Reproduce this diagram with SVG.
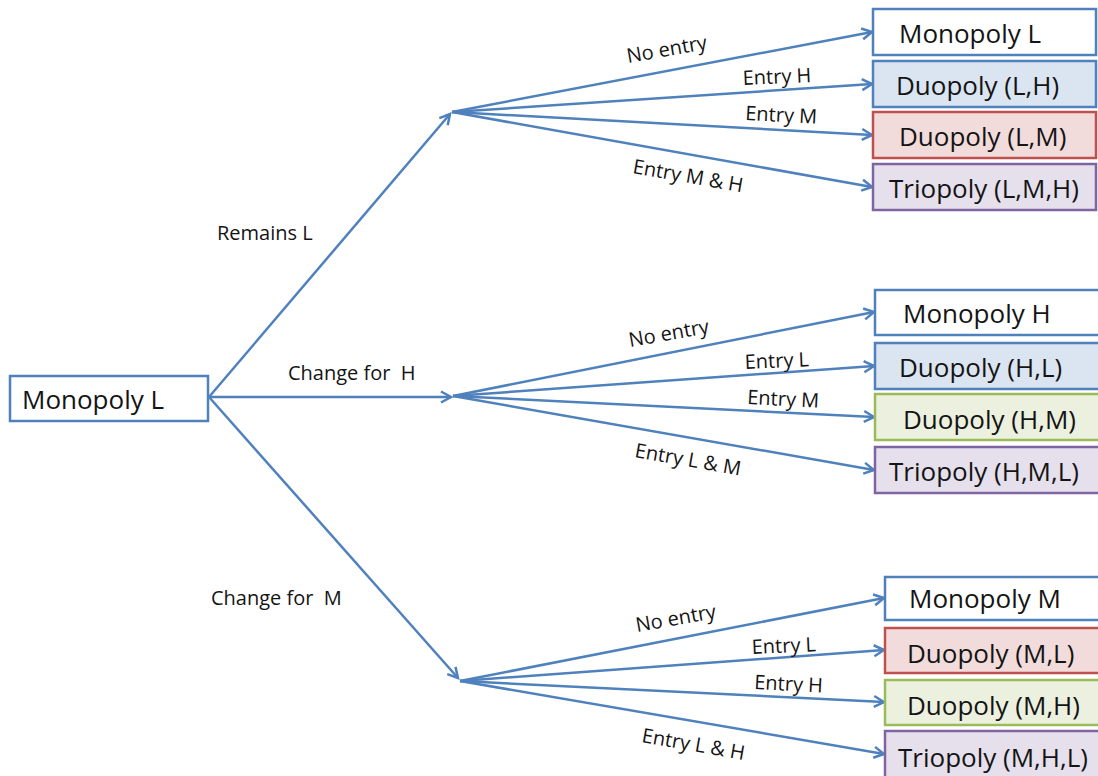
<svg xmlns="http://www.w3.org/2000/svg" width="1098" height="776" viewBox="0 0 1098 776">
<defs>
<marker id="arr" markerUnits="userSpaceOnUse" markerWidth="14" markerHeight="14" refX="11" refY="6" orient="auto" overflow="visible">
<path d="M1,0.5 L11,6 L1,11.5" fill="none" stroke="#4f81bd" stroke-width="2.5" stroke-linejoin="miter"/>
</marker>
</defs>
<style>
.box{stroke-width:2.5}
.w{fill:#ffffff;stroke:#4f81bd}
.b{fill:#dbe5f1;stroke:#4f81bd}
.r{fill:#f2dcdb;stroke:#c0504d}
.g{fill:#ebf1de;stroke:#9bbb59}
.p{fill:#e5e0ec;stroke:#8064a2}
.t{font-family:"Open Sans","Liberation Sans",sans-serif;font-size:26px;fill:#141414}
.l{font-family:"Open Sans","Liberation Sans",sans-serif;font-size:20px;fill:#141414;white-space:pre}
.c{fill:none;stroke:#4f81bd;stroke-width:2.5;marker-end:url(#arr)}
</style>
<rect width="1098" height="776" fill="#ffffff"/>

<g id="connectors">
<line class="c" x1="209" y1="397" x2="450" y2="114"/>
<line class="c" x1="209" y1="397" x2="451" y2="397"/>
<line class="c" x1="209" y1="397" x2="458" y2="678"/>

<line class="c" x1="452" y1="112" x2="872" y2="32"/>
<line class="c" x1="452" y1="112" x2="872" y2="84"/>
<line class="c" x1="452" y1="112" x2="872" y2="135"/>
<line class="c" x1="452" y1="112" x2="872" y2="187"/>

<line class="c" x1="453" y1="396" x2="874" y2="312"/>
<line class="c" x1="453" y1="396" x2="874" y2="366"/>
<line class="c" x1="453" y1="396" x2="874" y2="417"/>
<line class="c" x1="453" y1="396" x2="874" y2="470"/>

<line class="c" x1="460" y1="681" x2="884" y2="598"/>
<line class="c" x1="460" y1="681" x2="884" y2="650"/>
<line class="c" x1="460" y1="681" x2="884" y2="702"/>
<line class="c" x1="460" y1="681" x2="884" y2="754"/>
</g>

<g id="edge-labels">
<text class="l" x="217" y="240">Remains L</text>
<text class="l" x="288" y="380" xml:space="preserve">Change for  H</text>
<text class="l" x="211" y="605" xml:space="preserve">Change for  M</text>

<text class="l" transform="translate(628,63) rotate(-10)">No entry</text>
<text class="l" transform="translate(743,85) rotate(-2.5)">Entry H</text>
<text class="l" transform="translate(745,120) rotate(3)">Entry M</text>
<text class="l" transform="translate(632,173) rotate(10)">Entry M &amp; H</text>

<text class="l" transform="translate(630,347) rotate(-10)">No entry</text>
<text class="l" transform="translate(745,369) rotate(-2.5)">Entry L</text>
<text class="l" transform="translate(747,404) rotate(3)">Entry M</text>
<text class="l" transform="translate(634,457) rotate(10)">Entry L &amp; M</text>

<text class="l" transform="translate(637,632) rotate(-10)">No entry</text>
<text class="l" transform="translate(752,654) rotate(-2.5)">Entry L</text>
<text class="l" transform="translate(754,689) rotate(3)">Entry H</text>
<text class="l" transform="translate(641,742) rotate(10)">Entry L &amp; H</text>
</g>

<g id="root">
<rect class="box w" x="10" y="376" width="198" height="45"/>
<text class="t" x="22" y="409">Monopoly L</text>
</g>

<g id="l-mono"><rect class="box w" x="873" y="9" width="223" height="46"/><text class="t" x="899" y="43">Monopoly L</text></g>
<g id="l-duo-h"><rect class="box b" x="873" y="61" width="223" height="46"/><text class="t" x="896" y="95">Duopoly (L,H)</text></g>
<g id="l-duo-m"><rect class="box r" x="873" y="112" width="223" height="46"/><text class="t" x="899" y="146">Duopoly (L,M)</text></g>
<g id="l-trio"><rect class="box p" x="873" y="164" width="223" height="46"/><text class="t" x="889" y="198">Triopoly (L,M,H)</text></g>

<g id="h-mono"><rect class="box w" x="875" y="290" width="230" height="45"/><text class="t" x="903" y="323">Monopoly H</text></g>
<g id="h-duo-l"><rect class="box b" x="875" y="343" width="230" height="46"/><text class="t" x="899" y="377">Duopoly (H,L)</text></g>
<g id="h-duo-m"><rect class="box g" x="875" y="394" width="230" height="46"/><text class="t" x="903" y="429">Duopoly (H,M)</text></g>
<g id="h-trio"><rect class="box p" x="875" y="447" width="230" height="46"/><text class="t" x="889" y="481">Triopoly (H,M,L)</text></g>

<g id="m-mono"><rect class="box w" x="885" y="577" width="230" height="43"/><text class="t" x="909" y="608">Monopoly M</text></g>
<g id="m-duo-l"><rect class="box r" x="885" y="628" width="230" height="45"/><text class="t" x="907" y="663">Duopoly (M,L)</text></g>
<g id="m-duo-h"><rect class="box g" x="885" y="680" width="230" height="45"/><text class="t" x="907" y="715">Duopoly (M,H)</text></g>
<g id="m-trio"><rect class="box p" x="885" y="731" width="230" height="60"/><text class="t" x="898" y="767">Triopoly (M,H,L)</text></g>
</svg>
